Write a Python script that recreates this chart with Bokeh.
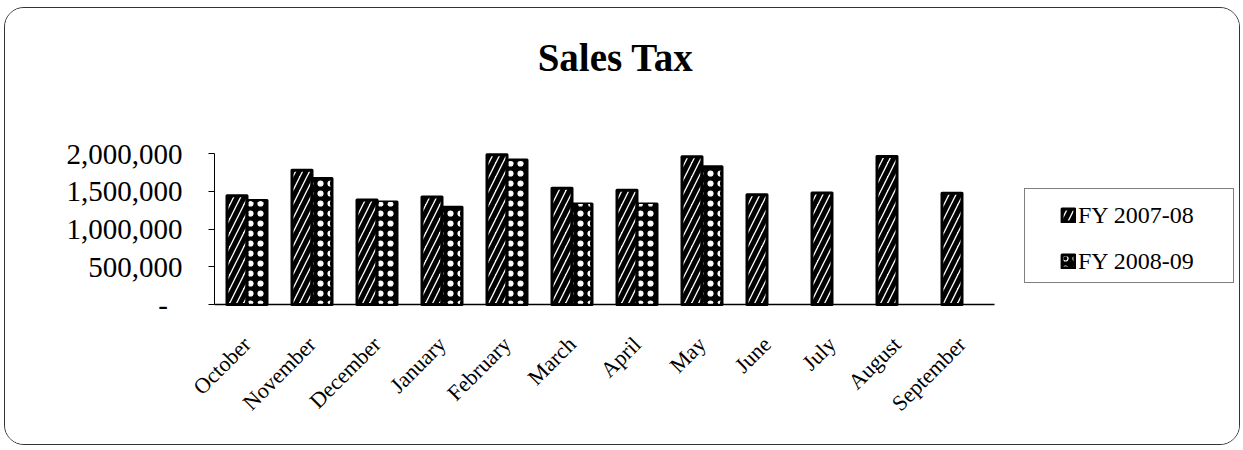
import math
from bokeh.plotting import figure
from bokeh.models import (ColumnDataSource, FixedTicker, NumeralTickFormatter,
                          Legend, LegendItem, Range1d, LinearAxis, Label)
from bokeh.transform import dodge
from bokeh.embed import file_html
from bokeh.resources import INLINE

# ---- data ----
months = ["October", "November", "December", "January", "February", "March",
          "April", "May", "June", "July", "August", "September"]
fy_2007_08 = [1440000, 1779000, 1383000, 1424000, 1985000, 1540000,
              1513000, 1956000, 1453000, 1477000, 1959000, 1473000]
months_2008_09 = ["October", "November", "December", "January", "February", "March",
                  "April", "May"]
fy_2008_09 = [1378000, 1669000, 1356000, 1287000, 1915000, 1331000,
              1330000, 1826000]
y_ticks = [0, 500000, 1000000, 1500000, 2000000]
series_names = ["FY 2007-08", "FY 2008-09"]
title_text = "Sales Tax"

SERIF = "Liberation Serif"

# category slot positions (slot i spans [i, i+1])
month_pos = {m: i + 0.5 for i, m in enumerate(months)}
src1 = ColumnDataSource(dict(month=months, pos=[month_pos[m] for m in months],
                             value=fy_2007_08))
src2 = ColumnDataSource(dict(month=months_2008_09,
                             pos=[month_pos[m] for m in months_2008_09],
                             value=fy_2008_09))

# ---- layout geometry (pixels inside the canvas) ----
W, H = 1236, 438
plot_left, plot_right = 209, 989      # where the category axis runs
plot_top, plot_bottom = 145, 296      # 2,000,000 and 0
ymax = y_ticks[-1]
n = len(months)
px_per_cat = (plot_right - plot_left) / n
px_per_val = (plot_bottom - plot_top) / ymax

x_range = Range1d(-plot_left / px_per_cat, (W - plot_left) / px_per_cat)
y_range = Range1d(-(H - plot_bottom) / px_per_val, plot_bottom / px_per_val)

p = figure(width=W, height=H, x_range=x_range, y_range=y_range, title=None,
           toolbar_location=None, output_backend="svg", x_axis_type=None,
           y_axis_type=None, min_border=0)
p.styles = {"margin": "7px 0 0 4px", "border": "1px solid #333",
            "border-radius": "20px", "overflow": "hidden"}
p.outline_line_color = None
p.grid.visible = False
p.background_fill_color = "white"
p.border_fill_color = "white"

bw = 20 / px_per_cat
r1 = p.vbar(x=dodge("pos", -bw / 2), top="value", width=bw,
            source=src1, fill_color="white", line_color="black", line_width=3,
            line_join="round", hatch_pattern="/", hatch_color="black",
            hatch_scale=14, hatch_weight=5)
r2 = p.vbar(x=dodge("pos", bw / 2), top="value", width=bw,
            source=src2, fill_color="black", line_color="black", line_width=3,
            line_join="round", hatch_pattern="o", hatch_color="white",
            hatch_scale=10, hatch_weight=1.2)
p.vbar(x=dodge("pos", bw / 2), top="value", width=bw * 0.8,
       source=src2, fill_alpha=0, line_alpha=0, hatch_pattern=".",
       hatch_color="white", hatch_scale=10, hatch_weight=4)

# axes, fixed at the plot's origin
yax = LinearAxis(fixed_location=0, bounds=(0, ymax),
                 ticker=FixedTicker(ticks=y_ticks),
                 formatter=NumeralTickFormatter(format="0,0"))
yax.major_label_overrides = {0: "-\u00a0\u00a0"}
yax.major_label_text_font = SERIF
yax.major_label_text_font_size = "29px"
yax.major_label_text_color = "black"
yax.major_label_standoff = 26
yax.major_tick_out = 6
yax.major_tick_in = 0
yax.minor_tick_line_color = None
yax.axis_line_color = "black"
yax.major_tick_line_color = "black"
p.add_layout(yax, "left")

xax = LinearAxis(fixed_location=0, bounds=(0, n),
                 ticker=FixedTicker(ticks=[month_pos[m] for m in months]))
xax.major_label_overrides = {month_pos[m]: m for m in months}
xax.major_label_orientation = math.pi / 4
xax.major_label_text_font = SERIF
xax.major_label_text_font_size = "22px"
xax.major_label_text_color = "black"
xax.major_label_standoff = 30
xax.major_tick_line_color = None
xax.minor_tick_line_color = None
xax.axis_line_color = "black"
xax.axis_line_width = 1.5
p.add_layout(xax, "below")

# title
p.add_layout(Label(x=610, y=H - 49, x_units="screen", y_units="screen",
                   text=title_text, text_font=SERIF, text_font_style="bold",
                   text_font_size="39px", text_align="center",
                   text_baseline="middle", text_color="black"))

# legend
legend = Legend(items=[LegendItem(label=series_names[0], renderers=[r1]),
                       LegendItem(label=series_names[1], renderers=[r2])],
                location=(1019, H - 275), border_line_color="black",
                border_line_width=1, background_fill_color="white", margin=0,
                spacing=18, glyph_width=16, glyph_height=16, label_standoff=2,
                label_text_font=SERIF, label_text_font_size="24px",
                label_text_color="black", label_height=28, label_width=120)
try:
    legend.padding = (35, 35, 12, 7)
except Exception:
    legend.padding = 10
p.add_layout(legend)

open("out.html", "w").write(file_html(p, INLINE))
